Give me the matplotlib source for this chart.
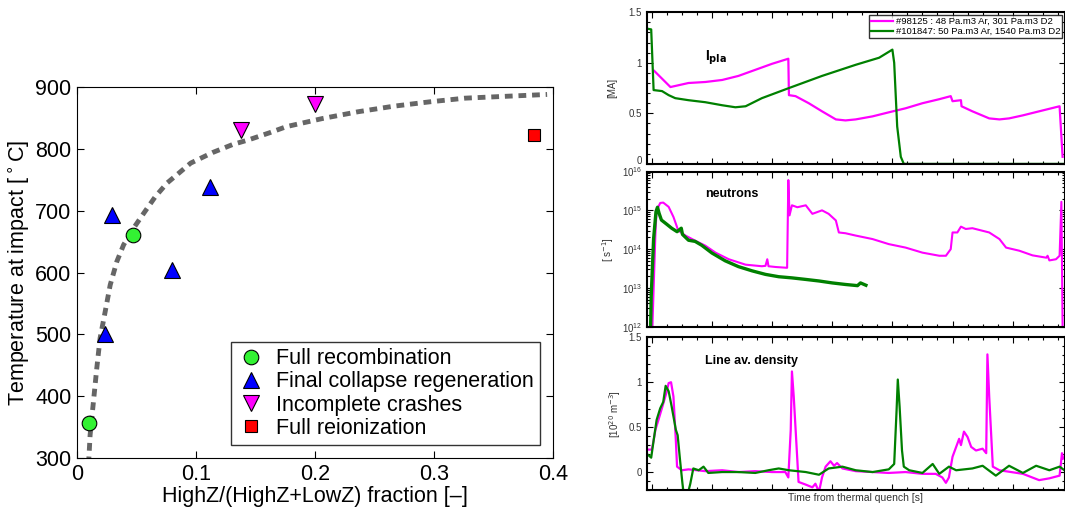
import numpy as np
import matplotlib
matplotlib.use('Agg')
import matplotlib.pyplot as plt
import matplotlib.transforms as mtransforms
from matplotlib.ticker import MultipleLocator, LogLocator, NullFormatter

plt.rcParams['font.family'] = ['Liberation Sans', 'DejaVu Sans']

# ---- left panel data: temperature at impact vs high-Z fraction
rec_x = [0.0101, 0.0468]
rec_y = [356, 660]
fcr_x = [0.0237, 0.0298, 0.0795, 0.1116]
fcr_y = [500, 693, 604, 739]
inc_x = [0.138, 0.200]
inc_y = [831, 873]
reion_x = [0.384]
reion_y = [822]
fit_x = [0.0096, 0.0101, 0.0110, 0.0138, 0.0166, 0.0194, 0.0237, 0.0279, 0.0335, 0.0392,
         0.0476, 0.0561, 0.0659, 0.0758, 0.0857, 0.0955, 0.1138, 0.1307, 0.1448, 0.1617,
         0.176, 0.206, 0.236, 0.266, 0.296, 0.326, 0.36, 0.395]
fit_y = [290, 304, 337, 391, 445, 494, 537, 580, 618, 645,
         672, 696, 723, 745, 761, 777, 794, 807, 815, 826,
         836, 849, 860, 869, 876, 882, 885, 888]

# ---- right panels: time traces (time axis in arbitrary units, ticks hidden)
ip_m_t = [0.04, 0.31, 0.61, 0.89, 1.17, 1.44, 1.72, 2.00, 2.27, 2.28, 2.39, 2.61, 2.83, 3.06,
          3.22, 3.39, 3.67, 3.94, 4.22, 4.50, 4.78, 4.97, 5.00, 5.14, 5.15, 5.33, 5.61, 5.78,
          5.94, 6.17, 6.44, 6.78, 6.83]
ip_m = [0.92, 0.76, 0.80, 0.81, 0.83, 0.87, 0.93, 0.99, 1.04, 0.68, 0.67, 0.60, 0.52, 0.44,
        0.43, 0.44, 0.47, 0.51, 0.55, 0.60, 0.64, 0.67, 0.62, 0.63, 0.57, 0.52, 0.45, 0.44,
        0.45, 0.48, 0.52, 0.57, 0.07]
ip_g_t = [-0.10, -0.01, 0.03, 0.17, 0.28, 0.39, 0.61, 0.89, 1.17, 1.39, 1.56, 1.83, 2.28,
          2.83, 3.39, 3.78, 4.00, 4.03, 4.08, 4.14, 4.19, 6.90]
ip_g = [1.34, 1.33, 0.73, 0.72, 0.68, 0.65, 0.63, 0.61, 0.58, 0.56, 0.57, 0.65, 0.75,
        0.87, 0.98, 1.05, 1.13, 1.00, 0.37, 0.07, 0.0, 0.0]

nt_m_t = [0.01, 0.06, 0.08, 0.14, 0.19, 0.28, 0.36, 0.44, 0.56, 0.72, 0.89, 1.06, 1.28, 1.56,
          1.83, 1.89, 1.92, 1.94, 2.06, 2.25, 2.27, 2.29, 2.33, 2.42, 2.56, 2.67, 2.83, 2.94,
          3.06, 3.11, 3.22, 3.39, 3.67, 3.94, 4.22, 4.50, 4.78, 4.89, 4.97, 5.00, 5.08, 5.14,
          5.22, 5.33, 5.61, 5.78, 5.89, 6.11, 6.33, 6.56, 6.58, 6.61, 6.72, 6.78, 6.81, 6.83]
nt_m_log = [12.0, 14.39, 15.0, 15.19, 15.2, 15.09, 14.83, 14.48, 14.35, 14.22, 14.09, 13.91,
            13.74, 13.6, 13.56, 13.57, 13.74, 13.56, 13.54, 13.52, 15.78, 14.87, 15.13, 15.08,
            15.13, 14.91, 15.0, 14.91, 14.74, 14.43, 14.41, 14.35, 14.26, 14.13, 14.04, 13.91,
            13.83, 13.83, 14.0, 14.43, 14.43, 14.58, 14.52, 14.54, 14.43, 14.26, 14.04, 13.96,
            13.84, 13.78, 13.83, 13.71, 13.74, 13.83, 15.22, 12.0]
nt_g_t = [-0.02, -0.01, 0.03, 0.07, 0.095, 0.12, 0.16, 0.25, 0.33, 0.42, 0.49, 0.51, 0.61,
          0.72, 0.83, 1.0, 1.22, 1.44, 1.67, 1.89, 2.11, 2.33, 2.56, 2.78, 3.0, 3.22, 3.42,
          3.47, 3.56]
nt_g_log = [12.0, 12.78, 14.27, 14.97, 15.08, 14.93, 14.75, 14.64, 14.54, 14.45, 14.54, 14.38,
            14.23, 14.2, 14.1, 13.9, 13.7, 13.55, 13.44, 13.35, 13.29, 13.26, 13.22, 13.18,
            13.13, 13.09, 13.06, 13.13, 13.07]

ne_m_t = [-0.10, 0.00, 0.03, 0.06, 0.11, 0.19, 0.25, 0.28, 0.32, 0.36, 0.40, 0.42, 0.50, 0.61,
          0.89, 1.17, 1.44, 1.72, 2.00, 2.22, 2.27, 2.31, 2.33, 2.36, 2.42, 2.44, 2.56, 2.67,
          2.72, 2.78, 2.83, 2.89, 2.97, 3.03, 3.08, 3.17, 3.39, 3.67, 3.94, 4.22, 4.50, 4.72,
          4.83, 4.89, 4.94, 5.00, 5.11, 5.14, 5.19, 5.25, 5.31, 5.39, 5.50, 5.56, 5.58, 5.61,
          5.67, 5.78, 6.17, 6.44, 6.61, 6.78, 6.82, 6.84]
ne_m = [0.25, 0.25, 0.35, 0.47, 0.58, 0.76, 0.90, 0.99, 1.00, 0.84, 0.35, 0.06, 0.02, 0.03,
        0.01, 0.02, 0.00, 0.01, 0.00, 0.00, -0.06, 0.47, 1.12, 0.84, 0.13, -0.11, -0.14, -0.17,
        -0.13, -0.22, -0.06, 0.06, 0.12, 0.07, 0.10, 0.04, 0.01, 0.00, -0.01, 0.00, -0.02, -0.02,
        -0.06, -0.12, -0.06, 0.17, 0.37, 0.30, 0.45, 0.39, 0.28, 0.24, 0.26, 0.21, 1.31, 0.84,
        0.06, 0.02, -0.02, -0.09, -0.07, -0.04, 0.21, 0.15]
ne_g_t = [-0.10, -0.06, -0.01, 0.03, 0.08, 0.14, 0.19, 0.23, 0.28, 0.33, 0.40, 0.43, 0.47,
          0.51, 0.53, 0.61, 0.64, 0.69, 0.78, 0.86, 0.94, 1.17, 1.44, 1.72, 1.94, 2.11, 2.28,
          2.56, 2.78, 2.94, 3.17, 3.39, 3.67, 3.94, 4.03, 4.07, 4.09, 4.12, 4.16, 4.19, 4.28,
          4.50, 4.67, 4.78, 4.94, 5.06, 5.33, 5.50, 5.72, 5.94, 6.17, 6.39, 6.61, 6.78, 6.86]
ne_g = [0.21, 0.19, 0.16, 0.35, 0.58, 0.71, 0.78, 0.96, 0.90, 0.73, 0.47, 0.41, 0.13,
        -0.13, -0.24, -0.21, -0.13, 0.04, 0.02, 0.06, -0.01, 0.00, 0.00, -0.01, 0.02, 0.04, 0.02,
        0.00, -0.03, 0.04, 0.06, 0.02, 0.00, 0.03, 0.09, 0.69, 1.03, 0.73, 0.24, 0.06, 0.02,
        -0.01, 0.09, -0.02, 0.06, 0.02, 0.04, 0.07, -0.04, 0.07, -0.01, 0.07, 0.02, 0.06, 0.02]

MAG = (1.0, 0.0, 1.0)
DGREEN = (0.0, 0.5, 0.0)

fig = plt.figure(figsize=(10.65, 5.09), dpi=100)

# ------------------ left panel
ax = fig.add_axes([0.0723, 0.100, 0.447, 0.729])
ax.plot(fit_x, fit_y, color=(0.4, 0.4, 0.4), lw=3.5, dashes=(1.6, 1.2), zorder=1)
ax.plot(rec_x, rec_y, 'o', ms=10.5, mfc=(0.2, 0.95, 0.2), mec='k', mew=0.8, label='Full recombination')
ax.plot(fcr_x, fcr_y, '^', ms=11.5, mfc=(0, 0, 1), mec='k', mew=0.8, label='Final collapse regeneration')
ax.plot(inc_x, inc_y, 'v', ms=11.5, mfc=MAG, mec='k', mew=0.8, label='Incomplete crashes')
ax.plot(reion_x, reion_y, 's', ms=8.5, mfc=(1, 0, 0), mec='k', mew=0.8, label='Full reionization')
ax.set_xlim(0, 0.4)
ax.set_ylim(300, 900)
ax.set_xticks([0, 0.1, 0.2, 0.3, 0.4])
ax.set_xticklabels(['0', '0.1', '0.2', '0.3', '0.4'])
ax.tick_params(direction='in', top=True, right=True, labelsize=15.5, length=5, pad=4)
ax.set_xlabel('HighZ/(HighZ+LowZ) fraction [–]', fontsize=15.5, labelpad=1)
ax.set_ylabel('Temperature at impact [$^\\circ$C]', fontsize=15.5, labelpad=2)
leg = ax.legend(loc='lower right', fontsize=15.5, fancybox=False, edgecolor='k',
                handletextpad=0.5, borderaxespad=0.6, labelspacing=0.1, handlelength=1.3,
                borderpad=0.3)
leg.get_frame().set_linewidth(1.0)

# ------------------ right panels
xl = (-0.08, 6.87)
boxes = [[0.6075, 0.678, 0.3925, 0.298],
         [0.6075, 0.358, 0.3925, 0.305],
         [0.6075, 0.0373, 0.3925, 0.300]]
axs = [fig.add_axes(b) for b in boxes]
for a in axs:
    a.set_xlim(*xl)
    a.xaxis.set_major_locator(MultipleLocator(1))
    a.xaxis.set_minor_locator(MultipleLocator(0.25))
    a.tick_params(which='both', direction='in', top=True, right=True, labelbottom=False,
                  labelsize=7, colors='k', labelcolor='#333333', width=0.8)
    a.tick_params(which='major', length=4)
    a.tick_params(which='minor', length=2)
    for s in a.spines.values():
        s.set_linewidth(1.5)

a1, a2, a3 = axs
a1.plot(ip_m_t, ip_m, color=MAG, lw=1.6, label='#98125 : 48 Pa.m3 Ar, 301 Pa.m3 D2')
a1.plot(ip_g_t, ip_g, color=DGREEN, lw=1.6, label='#101847: 50 Pa.m3 Ar, 1540 Pa.m3 D2')
a1.set_ylim(0, 1.5)
a1.set_yticks([0, 0.5, 1, 1.5])
a1.set_yticklabels(['0', '0.5', '1', '1.5'])
a1.yaxis.set_minor_locator(MultipleLocator(0.1))
a1.set_ylabel('[MA]', fontsize=7, color='#333333', labelpad=8)
a1.text(0.89, 1.02, 'I$_{\\mathbf{pla}}$', fontsize=10, fontweight='bold')
lg = a1.legend(loc='upper right', fontsize=6.8, fancybox=False, edgecolor='k',
               borderaxespad=0.3, handlelength=2.4, handletextpad=0.25, labelspacing=0.1,
               borderpad=0.2)
lg.get_frame().set_linewidth(1.0)
# lift the "0" label a little so it does not run into the panel below
lab0 = a1.get_yticklabels()[0]
lab0.set_transform(lab0.get_transform() + mtransforms.ScaledTranslation(0, 3 / 72, fig.dpi_scale_trans))

a2.semilogy(nt_m_t, [10 ** v for v in nt_m_log], color=MAG, lw=1.5)
a2.semilogy(nt_g_t, [10 ** v for v in nt_g_log], color=DGREEN, lw=2.4)
a2.set_ylim(1e12, 1e16)
a2.yaxis.set_major_locator(LogLocator(base=10, numticks=10))
a2.yaxis.set_minor_formatter(NullFormatter())
a2.set_ylabel('[ s$^{-1}$]', fontsize=7, color='#333333', labelpad=4)
a2.text(0.89, 10 ** 15.35, 'neutrons', fontsize=9, fontweight='bold')

a3.plot(ne_m_t, ne_m, color=MAG, lw=1.6)
a3.plot(ne_g_t, ne_g, color=DGREEN, lw=1.6)
a3.set_ylim(-0.2, 1.5)
a3.set_yticks([0, 0.5, 1, 1.5])
a3.set_yticklabels(['0', '0.5', '1', '1.5'])
a3.yaxis.set_minor_locator(MultipleLocator(0.1))
a3.set_ylabel('[10$^{20}$ m$^{-3}$]', fontsize=7, color='#333333', labelpad=4)
a3.set_xlabel('Time from thermal quench [s]', fontsize=7.5, color='#333333', labelpad=2)
a3.text(0.89, 1.2, 'Line av. density', fontsize=9, fontweight='bold')

fig.savefig('out.png', dpi=100)
